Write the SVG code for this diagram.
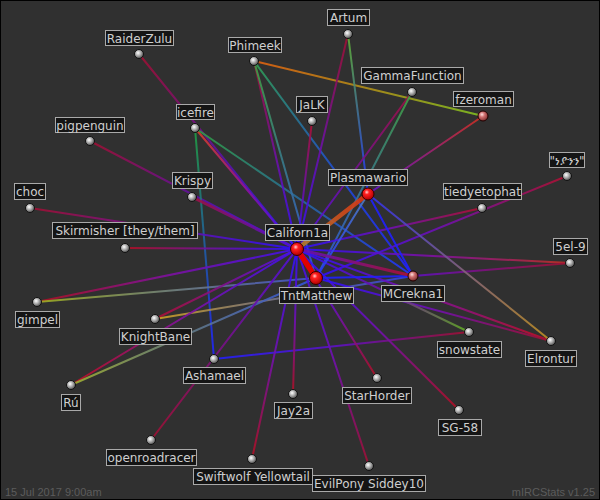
<svg xmlns="http://www.w3.org/2000/svg" width="600" height="500" viewBox="0 0 600 500">
<style>
.e{fill:none;stroke-width:2;stroke-linecap:round;stroke-opacity:0.9}
.lb rect{fill:#151515;stroke:#a9a9a9;stroke-width:1}
.lb text{fill:#cfcfcf;font-family:"DejaVu Sans",Verdana,sans-serif;font-size:12px;text-anchor:middle}
.b{fill:url(#ball);stroke:#111;stroke-width:1}
.h{fill:url(#hub);stroke:#300;stroke-width:1}
.p{fill:url(#pink);stroke:#200;stroke-width:1}
.ft{fill:#5c5c5c;font-family:"Liberation Sans",Arial,sans-serif;font-size:11px}
</style>
<defs>
<radialGradient id="ball" cx="0.4" cy="0.38" r="0.65"><stop offset="0" stop-color="#ffffff"/><stop offset="0.5" stop-color="#a8a8a8"/><stop offset="1" stop-color="#4a4a4a"/></radialGradient>
<radialGradient id="hub" cx="0.4" cy="0.35" r="0.65"><stop offset="0" stop-color="#ffd0d0"/><stop offset="0.3" stop-color="#ff2020"/><stop offset="1" stop-color="#b00000"/></radialGradient>
<radialGradient id="pink" cx="0.4" cy="0.35" r="0.65"><stop offset="0" stop-color="#ffe0e0"/><stop offset="0.4" stop-color="#d07070"/><stop offset="1" stop-color="#803030"/></radialGradient>
<linearGradient id="g2" gradientUnits="userSpaceOnUse" x1="297" y1="249" x2="368" y2="194"><stop offset="0" stop-color="#b08030"/><stop offset="1" stop-color="#e03010"/></linearGradient>
<linearGradient id="g3" gradientUnits="userSpaceOnUse" x1="192" y1="197" x2="297" y2="249"><stop offset="0" stop-color="#a01040"/><stop offset="1" stop-color="#4a10e0"/></linearGradient>
<linearGradient id="g4" gradientUnits="userSpaceOnUse" x1="297" y1="249" x2="413" y2="276"><stop offset="0" stop-color="#6010c0"/><stop offset="1" stop-color="#b01030"/></linearGradient>
<linearGradient id="g5" gradientUnits="userSpaceOnUse" x1="139" y1="54" x2="297" y2="249"><stop offset="0" stop-color="#a01030"/><stop offset="0.5" stop-color="#6010a0"/><stop offset="1" stop-color="#2020ff"/></linearGradient>
<linearGradient id="g6" gradientUnits="userSpaceOnUse" x1="90" y1="141" x2="297" y2="249"><stop offset="0" stop-color="#a01030"/><stop offset="0.5" stop-color="#6010a0"/><stop offset="1" stop-color="#2020ff"/></linearGradient>
<linearGradient id="g7" gradientUnits="userSpaceOnUse" x1="195" y1="128" x2="297" y2="249"><stop offset="0" stop-color="#e04020"/><stop offset="0.5" stop-color="#9010a0"/><stop offset="1" stop-color="#3010ff"/></linearGradient>
<linearGradient id="g8" gradientUnits="userSpaceOnUse" x1="195" y1="128" x2="413" y2="276"><stop offset="0" stop-color="#30a040"/><stop offset="1" stop-color="#2030ff"/></linearGradient>
<linearGradient id="g9" gradientUnits="userSpaceOnUse" x1="195" y1="128" x2="214" y2="359"><stop offset="0" stop-color="#20a040"/><stop offset="1" stop-color="#2020ff"/></linearGradient>
<linearGradient id="g10" gradientUnits="userSpaceOnUse" x1="254" y1="61" x2="483" y2="116"><stop offset="0" stop-color="#e06010"/><stop offset="1" stop-color="#80c020"/></linearGradient>
<linearGradient id="g11" gradientUnits="userSpaceOnUse" x1="254" y1="61" x2="297" y2="249"><stop offset="0" stop-color="#a01030"/><stop offset="0.5" stop-color="#7010a0"/><stop offset="1" stop-color="#3010ff"/></linearGradient>
<linearGradient id="g12" gradientUnits="userSpaceOnUse" x1="254" y1="61" x2="316" y2="278"><stop offset="0" stop-color="#40a040"/><stop offset="1" stop-color="#3050e0"/></linearGradient>
<linearGradient id="g13" gradientUnits="userSpaceOnUse" x1="254" y1="61" x2="413" y2="276"><stop offset="0" stop-color="#30a050"/><stop offset="0.5" stop-color="#2050d0"/><stop offset="1" stop-color="#2020ff"/></linearGradient>
<linearGradient id="g14" gradientUnits="userSpaceOnUse" x1="348" y1="34" x2="297" y2="249"><stop offset="0" stop-color="#a01030"/><stop offset="0.5" stop-color="#7010a0"/><stop offset="1" stop-color="#3010ff"/></linearGradient>
<linearGradient id="g15" gradientUnits="userSpaceOnUse" x1="348" y1="34" x2="368" y2="194"><stop offset="0" stop-color="#60b030"/><stop offset="1" stop-color="#2030ff"/></linearGradient>
<linearGradient id="g16" gradientUnits="userSpaceOnUse" x1="312" y1="121" x2="297" y2="249"><stop offset="0" stop-color="#b01030"/><stop offset="0.5" stop-color="#7010a0"/><stop offset="1" stop-color="#2a10ff"/></linearGradient>
<linearGradient id="g17" gradientUnits="userSpaceOnUse" x1="412" y1="92" x2="297" y2="249"><stop offset="0" stop-color="#a01040"/><stop offset="1" stop-color="#4a10e8"/></linearGradient>
<linearGradient id="g18" gradientUnits="userSpaceOnUse" x1="412" y1="92" x2="316" y2="278"><stop offset="0" stop-color="#40a040"/><stop offset="1" stop-color="#3050e0"/></linearGradient>
<linearGradient id="g19" gradientUnits="userSpaceOnUse" x1="483" y1="116" x2="368" y2="194"><stop offset="0" stop-color="#d03020"/><stop offset="1" stop-color="#6010d0"/></linearGradient>
<linearGradient id="g20" gradientUnits="userSpaceOnUse" x1="30" y1="208" x2="297" y2="249"><stop offset="0" stop-color="#a01030"/><stop offset="0.5" stop-color="#7010a0"/><stop offset="1" stop-color="#2a10ff"/></linearGradient>
<linearGradient id="g21" gradientUnits="userSpaceOnUse" x1="125" y1="248" x2="297" y2="249"><stop offset="0" stop-color="#b01020"/><stop offset="0.5" stop-color="#7010a0"/><stop offset="1" stop-color="#2a10ff"/></linearGradient>
<linearGradient id="g22" gradientUnits="userSpaceOnUse" x1="37" y1="302" x2="297" y2="249"><stop offset="0" stop-color="#b01020"/><stop offset="0.5" stop-color="#8010a0"/><stop offset="1" stop-color="#4010f0"/></linearGradient>
<linearGradient id="g23" gradientUnits="userSpaceOnUse" x1="37" y1="302" x2="316" y2="278"><stop offset="0" stop-color="#a0b020"/><stop offset="0.5" stop-color="#708080"/><stop offset="1" stop-color="#4050d0"/></linearGradient>
<linearGradient id="g24" gradientUnits="userSpaceOnUse" x1="155" y1="319" x2="297" y2="249"><stop offset="0" stop-color="#b01030"/><stop offset="1" stop-color="#4a10f0"/></linearGradient>
<linearGradient id="g25" gradientUnits="userSpaceOnUse" x1="155" y1="319" x2="413" y2="276"><stop offset="0" stop-color="#d0a020"/><stop offset="0.5" stop-color="#707090"/><stop offset="1" stop-color="#3040e0"/></linearGradient>
<linearGradient id="g26" gradientUnits="userSpaceOnUse" x1="71" y1="385" x2="297" y2="249"><stop offset="0" stop-color="#c01020"/><stop offset="0.5" stop-color="#8010a0"/><stop offset="1" stop-color="#4010f0"/></linearGradient>
<linearGradient id="g27" gradientUnits="userSpaceOnUse" x1="71" y1="385" x2="316" y2="278"><stop offset="0" stop-color="#a0b030"/><stop offset="0.5" stop-color="#607888"/><stop offset="1" stop-color="#3050e0"/></linearGradient>
<linearGradient id="g28" gradientUnits="userSpaceOnUse" x1="214" y1="359" x2="469" y2="332"><stop offset="0" stop-color="#2020ff"/><stop offset="0.5" stop-color="#6010c0"/><stop offset="1" stop-color="#a01030"/></linearGradient>
<linearGradient id="g29" gradientUnits="userSpaceOnUse" x1="151" y1="440" x2="297" y2="249"><stop offset="0" stop-color="#a01030"/><stop offset="1" stop-color="#5010e0"/></linearGradient>
<linearGradient id="g30" gradientUnits="userSpaceOnUse" x1="293" y1="394" x2="297" y2="249"><stop offset="0" stop-color="#b01020"/><stop offset="0.5" stop-color="#7010b0"/><stop offset="1" stop-color="#3010ff"/></linearGradient>
<linearGradient id="g31" gradientUnits="userSpaceOnUse" x1="377" y1="378" x2="297" y2="249"><stop offset="0" stop-color="#b01020"/><stop offset="0.5" stop-color="#7010b0"/><stop offset="1" stop-color="#2a10ff"/></linearGradient>
<linearGradient id="g32" gradientUnits="userSpaceOnUse" x1="459" y1="410" x2="297" y2="249"><stop offset="0" stop-color="#b01020"/><stop offset="0.5" stop-color="#7010b0"/><stop offset="1" stop-color="#3010ff"/></linearGradient>
<linearGradient id="g33" gradientUnits="userSpaceOnUse" x1="252" y1="459" x2="297" y2="249"><stop offset="0" stop-color="#b01020"/><stop offset="0.5" stop-color="#7010b0"/><stop offset="1" stop-color="#3010ff"/></linearGradient>
<linearGradient id="g34" gradientUnits="userSpaceOnUse" x1="369" y1="466" x2="297" y2="249"><stop offset="0" stop-color="#a01030"/><stop offset="0.5" stop-color="#7010b0"/><stop offset="1" stop-color="#4010f0"/></linearGradient>
<linearGradient id="g35" gradientUnits="userSpaceOnUse" x1="482" y1="208" x2="297" y2="249"><stop offset="0" stop-color="#b01030"/><stop offset="0.5" stop-color="#7010b0"/><stop offset="1" stop-color="#2a10ff"/></linearGradient>
<linearGradient id="g36" gradientUnits="userSpaceOnUse" x1="567" y1="176" x2="316" y2="278"><stop offset="0" stop-color="#b01030"/><stop offset="0.5" stop-color="#7010b0"/><stop offset="1" stop-color="#2a10ff"/></linearGradient>
<linearGradient id="g37" gradientUnits="userSpaceOnUse" x1="570" y1="263" x2="297" y2="249"><stop offset="0" stop-color="#c03020"/><stop offset="0.5" stop-color="#8010a0"/><stop offset="1" stop-color="#2a10ff"/></linearGradient>
<linearGradient id="g38" gradientUnits="userSpaceOnUse" x1="570" y1="263" x2="413" y2="276"><stop offset="0" stop-color="#a01030"/><stop offset="1" stop-color="#6010c0"/></linearGradient>
<linearGradient id="g39" gradientUnits="userSpaceOnUse" x1="551" y1="341" x2="297" y2="249"><stop offset="0" stop-color="#c01020"/><stop offset="0.5" stop-color="#8010a0"/><stop offset="1" stop-color="#2a10ff"/></linearGradient>
<linearGradient id="g40" gradientUnits="userSpaceOnUse" x1="551" y1="341" x2="316" y2="278"><stop offset="0" stop-color="#a01030"/><stop offset="0.5" stop-color="#7010b0"/><stop offset="1" stop-color="#2a10ff"/></linearGradient>
<linearGradient id="g41" gradientUnits="userSpaceOnUse" x1="551" y1="341" x2="368" y2="194"><stop offset="0" stop-color="#c09020"/><stop offset="0.5" stop-color="#806080"/><stop offset="1" stop-color="#3030f0"/></linearGradient>
<linearGradient id="g42" gradientUnits="userSpaceOnUse" x1="469" y1="332" x2="297" y2="249"><stop offset="0" stop-color="#60b020"/><stop offset="0.5" stop-color="#7010a0"/><stop offset="1" stop-color="#3010ff"/></linearGradient>
<linearGradient id="g45" gradientUnits="userSpaceOnUse" x1="316" y1="278" x2="368" y2="194"><stop offset="0" stop-color="#2030ff"/><stop offset="1" stop-color="#5080c0"/></linearGradient>
</defs>
<rect x="0.5" y="0.5" width="599" height="499" fill="#303030" stroke="#000" stroke-width="1"/>
<g id="connectors">
<line class="e" x1="139" y1="54" x2="297" y2="249" stroke="url(#g5)"/>
<line class="e" x1="90" y1="141" x2="297" y2="249" stroke="url(#g6)"/>
<line class="e" x1="195" y1="128" x2="297" y2="249" stroke="url(#g7)"/>
<line class="e" x1="195" y1="128" x2="413" y2="276" stroke="url(#g8)"/>
<line class="e" x1="195" y1="128" x2="214" y2="359" stroke="url(#g9)"/>
<line class="e" x1="254" y1="61" x2="483" y2="116" stroke="url(#g10)"/>
<line class="e" x1="254" y1="61" x2="297" y2="249" stroke="url(#g11)"/>
<line class="e" x1="254" y1="61" x2="316" y2="278" stroke="url(#g12)"/>
<line class="e" x1="254" y1="61" x2="413" y2="276" stroke="url(#g13)"/>
<line class="e" x1="348" y1="34" x2="297" y2="249" stroke="url(#g14)"/>
<line class="e" x1="348" y1="34" x2="368" y2="194" stroke="url(#g15)"/>
<line class="e" x1="312" y1="121" x2="297" y2="249" stroke="url(#g16)"/>
<line class="e" x1="412" y1="92" x2="297" y2="249" stroke="url(#g17)"/>
<line class="e" x1="412" y1="92" x2="316" y2="278" stroke="url(#g18)"/>
<line class="e" x1="483" y1="116" x2="368" y2="194" stroke="url(#g19)"/>
<line class="e" x1="30" y1="208" x2="297" y2="249" stroke="url(#g20)"/>
<line class="e" x1="125" y1="248" x2="297" y2="249" stroke="url(#g21)"/>
<line class="e" x1="37" y1="302" x2="297" y2="249" stroke="url(#g22)"/>
<line class="e" x1="37" y1="302" x2="316" y2="278" stroke="url(#g23)"/>
<line class="e" x1="155" y1="319" x2="297" y2="249" stroke="url(#g24)"/>
<line class="e" x1="155" y1="319" x2="413" y2="276" stroke="url(#g25)"/>
<line class="e" x1="71" y1="385" x2="297" y2="249" stroke="url(#g26)"/>
<line class="e" x1="71" y1="385" x2="316" y2="278" stroke="url(#g27)"/>
<line class="e" x1="214" y1="359" x2="469" y2="332" stroke="url(#g28)"/>
<line class="e" x1="151" y1="440" x2="297" y2="249" stroke="url(#g29)"/>
<line class="e" x1="293" y1="394" x2="297" y2="249" stroke="url(#g30)"/>
<line class="e" x1="377" y1="378" x2="297" y2="249" stroke="url(#g31)"/>
<line class="e" x1="459" y1="410" x2="297" y2="249" stroke="url(#g32)"/>
<line class="e" x1="252" y1="459" x2="297" y2="249" stroke="url(#g33)"/>
<line class="e" x1="369" y1="466" x2="297" y2="249" stroke="url(#g34)"/>
<line class="e" x1="482" y1="208" x2="297" y2="249" stroke="url(#g35)"/>
<line class="e" x1="567" y1="176" x2="316" y2="278" stroke="url(#g36)"/>
<line class="e" x1="570" y1="263" x2="297" y2="249" stroke="url(#g37)"/>
<line class="e" x1="570" y1="263" x2="413" y2="276" stroke="url(#g38)"/>
<line class="e" x1="551" y1="341" x2="297" y2="249" stroke="url(#g39)"/>
<line class="e" x1="551" y1="341" x2="316" y2="278" stroke="url(#g40)"/>
<line class="e" x1="551" y1="341" x2="368" y2="194" stroke="url(#g41)"/>
<line class="e" x1="469" y1="332" x2="297" y2="249" stroke="url(#g42)"/>
<line class="e" x1="368" y1="194" x2="413" y2="276" stroke="#2020ff"/>
<line class="e" x1="316" y1="278" x2="413" y2="276" stroke="#2020ff"/>
<line class="e" x1="316" y1="278" x2="368" y2="194" stroke="url(#g45)"/>
<line class="e" x1="192" y1="197" x2="297" y2="249" stroke="url(#g3)" style="stroke-width:3"/>
<line class="e" x1="297" y1="249" x2="413" y2="276" stroke="url(#g4)" style="stroke-width:3"/>
<line class="e" x1="297" y1="249" x2="368" y2="194" stroke="url(#g2)" style="stroke-width:4.5"/>
<line class="e" x1="297" y1="249" x2="316" y2="278" stroke="#e00000" style="stroke-width:5.5;stroke-opacity:1"/>
</g>
<g id="n-raiderzulu" class="lb"><circle class="b" cx="139" cy="54" r="4.5"/><rect x="105.5" y="30.5" width="68" height="15"/><text x="139.5" y="42.5">RaiderZulu</text></g>
<g id="n-phimeek" class="lb"><circle class="b" cx="254" cy="61" r="4.5"/><rect x="228.5" y="37.5" width="53" height="15"/><text x="255" y="49.5">Phimeek</text></g>
<g id="n-pigpenguin" class="lb"><circle class="b" cx="90" cy="141" r="4.5"/><rect x="55.5" y="117.5" width="69" height="15"/><text x="90" y="129.5">pigpenguin</text></g>
<g id="n-icefire" class="lb"><circle class="b" cx="195" cy="128" r="4.5"/><rect x="176.5" y="104.5" width="38" height="15"/><text x="195.5" y="116.5">icefire</text></g>
<g id="n-artum" class="lb"><circle class="b" cx="348" cy="34" r="4.5"/><rect x="327.5" y="9.5" width="42" height="16"/><text x="348.5" y="22">Artum</text></g>
<g id="n-gammafunction" class="lb"><circle class="b" cx="412" cy="92" r="4.5"/><rect x="361.5" y="67.5" width="102" height="16"/><text x="412.5" y="80">GammaFunction</text></g>
<g id="n-fzeroman" class="lb"><circle class="p" cx="483" cy="116" r="5"/><rect x="453.5" y="91.5" width="60" height="15"/><text x="483.5" y="103.5">fzeroman</text></g>
<g id="n-jalk" class="lb"><circle class="b" cx="312" cy="121" r="4.5"/><rect x="296.5" y="96.5" width="31" height="16"/><text x="312" y="109">JaLK</text></g>
<g id="n-glyphs" class="lb"><circle class="b" cx="567" cy="176" r="4.5"/><rect x="549.5" y="152.5" width="35" height="15"/><text x="567" y="164.5" style="font-family:'DejaVu Sans','Noto Sans',sans-serif">"ነያንን"</text></g>
<g id="n-choc" class="lb"><circle class="b" cx="30" cy="208" r="4.5"/><rect x="14.5" y="183.5" width="31" height="16"/><text x="30" y="196">choc</text></g>
<g id="n-krispy" class="lb"><circle class="b" cx="192" cy="197" r="4.5"/><rect x="172.5" y="172.5" width="40" height="16"/><text x="192.5" y="185">Krispy</text></g>
<g id="n-skirmisher" class="lb"><circle class="b" cx="125" cy="248" r="4.5"/><rect x="52.5" y="222.5" width="145" height="16"/><text x="125" y="235">Skirmisher [they/them]</text></g>
<g id="n-tiedyetophat" class="lb"><circle class="b" cx="482" cy="208" r="4.5"/><rect x="443.5" y="183.5" width="78" height="16"/><text x="482.5" y="196">tiedyetophat</text></g>
<g id="n-5el9" class="lb"><circle class="b" cx="570" cy="263" r="4.5"/><rect x="553.5" y="238.5" width="34" height="16"/><text x="570.5" y="251">5el-9</text></g>
<g id="n-gimpel" class="lb"><circle class="b" cx="37" cy="302" r="4.5"/><rect x="15.5" y="311.5" width="44" height="16"/><text x="37.5" y="324">gimpel</text></g>
<g id="n-knightbane" class="lb"><circle class="b" cx="155" cy="319" r="4.5"/><rect x="119.5" y="328.5" width="72" height="16"/><text x="155.5" y="341">KnightBane</text></g>
<g id="n-snowstate" class="lb"><circle class="b" cx="469" cy="332" r="4.5"/><rect x="437.5" y="341.5" width="64" height="16"/><text x="469.5" y="354">snowstate</text></g>
<g id="n-elrontur" class="lb"><circle class="b" cx="551" cy="341" r="4.5"/><rect x="525.5" y="350.5" width="51" height="16"/><text x="551" y="363">Elrontur</text></g>
<g id="n-ashamael" class="lb"><circle class="b" cx="214" cy="359" r="4.5"/><rect x="183.5" y="367.5" width="62" height="16"/><text x="214.5" y="380">Ashamael</text></g>
<g id="n-ru" class="lb"><circle class="b" cx="71" cy="385" r="4.5"/><rect x="61.5" y="394.5" width="19" height="16"/><text x="71" y="407">Rú</text></g>
<g id="n-jay2a" class="lb"><circle class="b" cx="293" cy="394" r="4.5"/><rect x="274.5" y="402.5" width="38" height="16"/><text x="293.5" y="415">Jay2a</text></g>
<g id="n-starhorder" class="lb"><circle class="b" cx="377" cy="378" r="4.5"/><rect x="342.5" y="387.5" width="69" height="16"/><text x="377" y="400">StarHorder</text></g>
<g id="n-sg58" class="lb"><circle class="b" cx="459" cy="410" r="4.5"/><rect x="438.5" y="419.5" width="43" height="16"/><text x="460" y="432">SG-58</text></g>
<g id="n-openroadracer" class="lb"><circle class="b" cx="151" cy="440" r="4.5"/><rect x="106.5" y="449.5" width="90" height="16"/><text x="151.5" y="462">openroadracer</text></g>
<g id="n-swiftwolf" class="lb"><circle class="b" cx="252" cy="459" r="4.5"/><rect x="193.5" y="468.5" width="119" height="16"/><text x="253" y="481">Swiftwolf Yellowtail</text></g>
<g id="n-evilpony" class="lb"><circle class="b" cx="369" cy="466" r="4.5"/><rect x="312.5" y="475.5" width="113" height="16"/><text x="369" y="488">EvilPony Siddey10</text></g>
<g id="n-mcrekna1" class="lb"><circle class="p" cx="413" cy="276" r="5"/><rect x="381.5" y="285.5" width="63" height="16"/><text x="413" y="298">MCrekna1</text></g>
<g id="n-plasmawario" class="lb"><circle class="h" cx="368" cy="194" r="6"/><rect x="328.5" y="169.5" width="79" height="16"/><text x="368" y="182">Plasmawario</text></g>
<g id="n-tntmatthew" class="lb"><circle class="h" cx="316" cy="278" r="6.5"/><rect x="279.5" y="287.5" width="74" height="16"/><text x="316.5" y="300">TntMatthew</text></g>
<g id="n-california" class="lb"><circle class="h" cx="297" cy="249" r="6.5"/><rect x="265.5" y="224.5" width="64" height="16"/><text x="297.5" y="237">Californ1a</text></g>
<text class="ft" x="5" y="496">15 Jul 2017 9:00am</text>
<text class="ft" x="595" y="496" text-anchor="end">mIRCStats v1.25</text>
</svg>
